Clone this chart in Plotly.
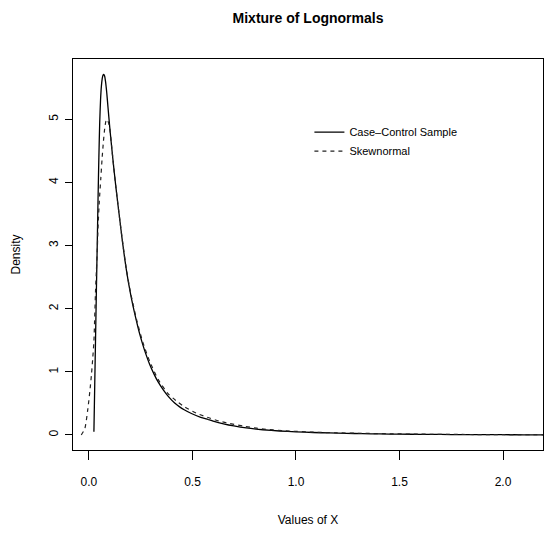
import plotly.graph_objects as go

# Case-control sample density (solid curve)
cc_x = [0.024, 0.028, 0.032, 0.036, 0.040, 0.044, 0.048, 0.052, 0.056, 0.060,
        0.064, 0.068, 0.072, 0.076, 0.080, 0.086, 0.092, 0.100, 0.110, 0.120,
        0.130, 0.140, 0.150, 0.160, 0.170, 0.180, 0.190, 0.200, 0.213, 0.229,
        0.245, 0.260, 0.275, 0.293, 0.315, 0.334, 0.360, 0.382, 0.414, 0.438,
        0.460, 0.495, 0.540, 0.575, 0.600, 0.650, 0.700, 0.760, 0.840, 0.921,
        1.000, 1.083, 1.160, 1.244, 1.320, 1.404, 1.500, 1.600, 1.700, 1.800,
        1.900, 2.000, 2.100, 2.200]
cc_y = [0.05, 0.80, 1.55, 2.30, 3.00, 3.75, 4.40, 4.95, 5.30, 5.52,
        5.64, 5.70, 5.71, 5.68, 5.60, 5.42, 5.19, 4.89, 4.55, 4.23,
        3.93, 3.65, 3.38, 3.11, 2.86, 2.63, 2.43, 2.25, 2.04, 1.81,
        1.60, 1.43, 1.28, 1.12, 0.96, 0.84, 0.71, 0.615, 0.505, 0.445,
        0.40, 0.34, 0.28, 0.245, 0.22, 0.177, 0.143, 0.111, 0.083, 0.063,
        0.050, 0.039, 0.032, 0.026, 0.021, 0.017, 0.013, 0.010, 0.008, 0.006,
        0.005, 0.004, 0.003, 0.003]

# Skew-normal fit (dashed curve)
sn_x = [-0.037, -0.020, -0.005, 0.004, 0.012, 0.018, 0.024, 0.028, 0.032, 0.036,
        0.040, 0.044, 0.050, 0.057, 0.064, 0.070, 0.076, 0.082, 0.088, 0.094,
        0.100, 0.110, 0.120, 0.130, 0.140, 0.150, 0.160, 0.180, 0.200, 0.229,
        0.260, 0.293, 0.334, 0.382, 0.420, 0.462, 0.500, 0.534, 0.583, 0.631,
        0.680, 0.750, 0.810, 0.857, 0.950, 1.083, 1.200, 1.320, 1.450, 1.600,
        1.800, 2.000, 2.200]
sn_y = [0.00, 0.10, 0.42, 0.68, 0.95, 1.20, 1.48, 1.88, 2.30, 2.60,
        2.90, 3.30, 3.70, 4.05, 4.40, 4.65, 4.85, 4.97, 5.00, 4.95,
        4.87, 4.56, 4.23, 3.93, 3.65, 3.38, 3.12, 2.64, 2.27, 1.84,
        1.47, 1.17, 0.88, 0.655, 0.545, 0.445, 0.375, 0.325, 0.268, 0.218,
        0.182, 0.137, 0.108, 0.090, 0.066, 0.044, 0.034, 0.026, 0.019, 0.013,
        0.008, 0.005, 0.003]

x_ticks = [0.0, 0.5, 1.0, 1.5, 2.0]
x_labels = ["0.0", "0.5", "1.0", "1.5", "2.0"]
y_ticks = [0, 1, 2, 3, 4, 5]
y_labels = ["0", "1", "2", "3", "4", "5"]

FONT = "Liberation Sans, Arial, Helvetica, sans-serif"

fig = go.Figure()
fig.add_trace(go.Scatter(
    x=cc_x, y=cc_y, mode="lines", name="Case\u2013Control Sample",
    line=dict(color="black", width=1.3, shape="spline", smoothing=0.6),
))
fig.add_trace(go.Scatter(
    x=sn_x, y=sn_y, mode="lines", name="Skewnormal",
    line=dict(color="#222222", width=1.2, dash="4px,4px", shape="spline", smoothing=0.6),
))

fig.update_layout(
    width=547, height=536,
    margin=dict(l=73, r=4, t=59, b=86),
    paper_bgcolor="white", plot_bgcolor="white",
    font=dict(family=FONT, color="black", size=12),
    title=dict(text="<b>Mixture of Lognormals</b>", x=(73 + 543) / 2 / 547, xanchor="center",
               y=1 - 18 / 536, yanchor="middle", font=dict(size=14, family=FONT, color="black")),
    showlegend=True,
    legend=dict(x=0.503, y=0.85, xanchor="left", yanchor="top",
                bgcolor="rgba(0,0,0,0)", borderwidth=0,
                font=dict(size=11, family=FONT, color="black"),
                tracegroupgap=0),
)

fig.update_xaxes(
    range=[-0.077, 2.193], tickvals=x_ticks, ticktext=x_labels,
    showgrid=False, zeroline=False, showline=True, linecolor="black", linewidth=1,
    mirror=True, ticks="outside", ticklen=9, tickcolor="black", tickwidth=1,
    tickfont=dict(size=12), ticklabelstandoff=12,
    title=dict(text="Values of X", font=dict(size=12), standoff=27),
)
fig.update_yaxes(
    range=[-0.238, 5.954], tickvals=y_ticks, ticktext=y_labels, tickangle=-90,
    showgrid=False, zeroline=False, showline=True, linecolor="black", linewidth=1,
    mirror=True, ticks="outside", ticklen=7, tickcolor="black", tickwidth=1,
    tickfont=dict(size=12), ticklabelstandoff=2,
    title=dict(text="Density", font=dict(size=12), standoff=24),
)

fig.write_html("out.html")
